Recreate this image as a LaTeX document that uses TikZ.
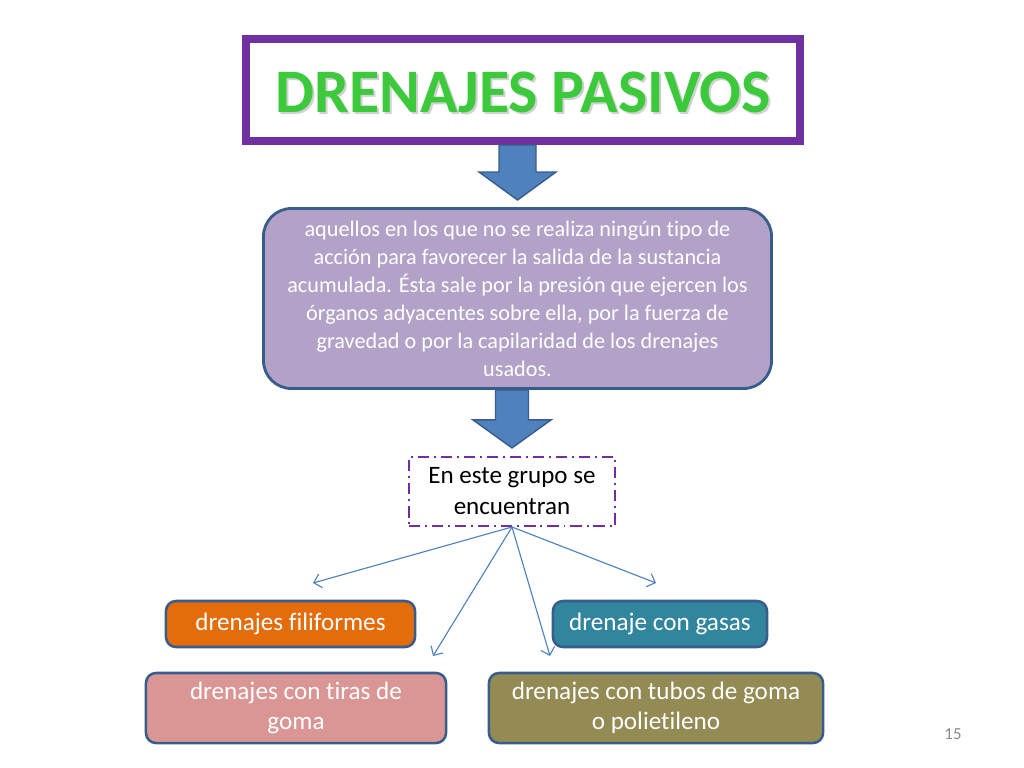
\documentclass[tikz,border=0pt]{standalone}
\usepackage{fontspec}
\setmainfont{Carlito}[Ligatures=NoCommon]
\usepackage{xcolor}
\usepackage{tikz}
\usetikzlibrary{positioning,arrows.meta}

\definecolor{titlepurple}{HTML}{7030A0}
\definecolor{titlegreen}{HTML}{3CC93C}
\definecolor{arrowblue}{HTML}{4F81BD}
\definecolor{edgeblue}{HTML}{385D8A}
\definecolor{lavender}{HTML}{B3A2C7}
\definecolor{boxorange}{HTML}{E46C0A}
\definecolor{boxteal}{HTML}{31859C}
\definecolor{boxpink}{HTML}{D99694}
\definecolor{boxolive}{HTML}{948A54}

\begin{document}
\begin{tikzpicture}[x=0.025cm, y=-0.025cm,
  titlebox/.style={rectangle, draw=titlepurple, line width=5.7pt, fill=white, minimum width=13.85cm, minimum height=2.55cm},
  blockarrow/.style={fill=arrowblue, draw=edgeblue, line width=1pt},
  infobox/.style={rectangle, rounded corners=0.7cm, draw=edgeblue, line width=2pt, fill=lavender, text=white, align=center, font=\fontsize{15.8}{19.9}\selectfont},
  groupbox/.style={rectangle, draw=titlepurple, line width=1.4pt, dash pattern=on 8pt off 3.5pt on 1.4pt off 3.5pt, fill=white, align=center, font=\fontsize{17.8}{22}\selectfont},
  kindbox/.style={rectangle, rounded corners=0.25cm, draw=edgeblue, line width=1.8pt, text=white, align=center, font=\fontsize{17.9}{21.3}\selectfont},
  link/.style={-{Straight Barb[length=5pt,width=10pt]}, draw=arrowblue, line width=0.8pt}]
\useasboundingbox (0,0) rectangle (1024,768);

\node[titlebox] (title) at (523,90) {};
\node[text=black!18, font=\fontsize{44}{50}\bfseries] (titleshadow) at (525,94.5) {DRENAJES PASIVOS};
\node[text=titlegreen, font=\fontsize{44}{50}\bfseries] (titletext) at (523,92) {DRENAJES PASIVOS};

\node[infobox, minimum width=12.7cm, minimum height=4.5cm] (desc) at (517.5,298.5) {aquellos en los que no se realiza ningún tipo de\\ acción para favorecer la salida de la sustancia\\ acumulada. Ésta sale por la presión que ejercen los\\ órganos adyacentes sobre ella, por la fuerza de\\ gravedad o por la capilaridad de los drenajes\\ usados.};
\node[groupbox, minimum width=5.15cm, minimum height=1.725cm] (group) at (512,491.5) {En este grupo se\\ encuentran};

% kinds of passive drains
\node[kindbox, fill=boxorange, minimum width=6.225cm, minimum height=1.15cm] (filiform) at (290.5,624) {drenajes filiformes};
\node[kindbox, fill=boxteal, minimum width=5.35cm, minimum height=1.15cm] (gauze) at (660,624) {drenaje con gasas};
\node[kindbox, fill=boxpink, minimum width=7.5cm, minimum height=1.75cm] (strips) at (296,708) {drenajes con tiras de\\ goma};
\node[kindbox, fill=boxolive, minimum width=8.35cm, minimum height=1.75cm] (tubes) at (656,708) {drenajes con tubos de goma\\ o polietileno};

\node[text=black!45, font=\fontsize{12}{14}\selectfont] (page) at (953,734) {15};

% block arrows
\draw[blockarrow] (title.south -| desc.north) ++(-18.5,0) -- ++(0,27) -- ++(-20,0) -- ++(38.5,28) -- ++(38.5,-28) -- ++(-20,0) -- ++(0,-27) -- cycle;
\draw[blockarrow] (desc.south -| group.north) ++(-16.5,0) -- ++(0,30) -- ++(-22.5,0) -- ++(39,28) -- ++(39,-28) -- ++(-22.5,0) -- ++(0,-30) -- cycle;

% thin arrows
\coordinate (endfil) at (313,583);
\coordinate (endstr) at (433,656);
\coordinate (endtub) at (550,656);
\coordinate (endgau) at (656,583);
\draw[link] (group.south) -- (endfil);
\draw[link] (group.south) -- (endstr);
\draw[link] (group.south) -- (endtub);
\draw[link] (group.south) -- (endgau);
\end{tikzpicture}
\end{document}
